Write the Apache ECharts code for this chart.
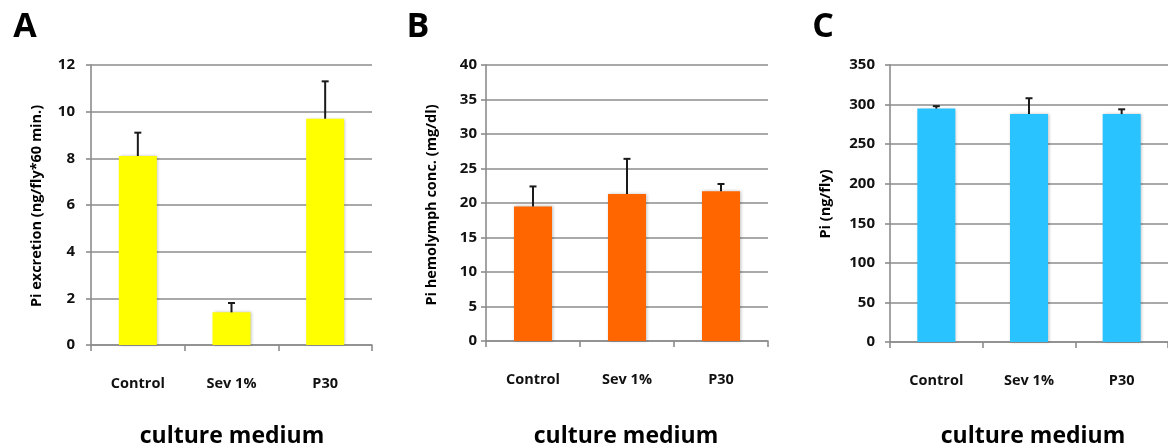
<!DOCTYPE html>
<html>
<head>
<meta charset="utf-8">
<script src="https://cdn.jsdelivr.net/npm/echarts@6/dist/echarts.min.js"></script>
<style>
html,body{margin:0;padding:0;background:#fff;}
#chart{width:1168px;height:448px;}
</style>
</head>
<body>
<div id="chart"></div>
<script>
const categories = ['Control', 'Sev 1%', 'P30'];
const excretion = [8.1, 1.4, 9.7];
const excretionErr = [1.0, 0.4, 1.6];
const hemolymph = [19.5, 21.3, 21.7];
const hemolymphErr = [2.9, 5.1, 1.05];
const content = [295, 288, 288];
const contentErr = [3, 20, 6];
const yTicksA = {min: 0, max: 12, interval: 2};
const yTicksB = {min: 0, max: 40, interval: 5};
const yTicksC = {min: 0, max: 350, interval: 50};

const FONT = '"Open Sans", sans-serif';
const GRAY = '#8c8c8c';

function errRender(params, api) {
  const x = api.value(0), v = api.value(1), e = api.value(2);
  const b = api.coord([x, v]);
  const t = api.coord([x, v + e]);
  const hw = 3.5;
  const st = {stroke: '#1a1a1a', lineWidth: 2};
  return {type: 'group', children: [
    {type: 'line', shape: {x1: b[0], y1: b[1], x2: t[0], y2: t[1]}, style: st},
    {type: 'line', shape: {x1: t[0] - hw, y1: t[1], x2: t[0] + hw, y2: t[1]}, style: st}
  ]};
}

function xAxisCfg(idx) {
  return {
    type: 'category', gridIndex: idx, data: categories, boundaryGap: true,
    axisLine: {lineStyle: {color: GRAY, width: 1.6}},
    axisTick: {show: true, length: 6, lineStyle: {color: GRAY, width: 1.6}, alignWithLabel: false},
    axisLabel: {margin: 31, fontFamily: FONT, fontWeight: 'bold', fontSize: 14.5, color: '#111'}
  };
}
function yAxisCfg(idx, t, margin) {
  return {
    type: 'value', gridIndex: idx, min: t.min, max: t.max, interval: t.interval,
    axisLine: {show: true, lineStyle: {color: GRAY, width: 1.6}},
    axisTick: {show: true, length: 5, lineStyle: {color: GRAY, width: 1.6}},
    splitLine: {show: true, lineStyle: {color: GRAY, width: 1.6}},
    axisLabel: {margin: margin, fontFamily: FONT, fontWeight: 'bold', fontSize: 15, color: '#111'}
  };
}
function barSeries(idx, vals, color) {
  return {
    type: 'bar', xAxisIndex: idx, yAxisIndex: idx, data: vals, barWidth: 38,
    itemStyle: {color: color, shadowColor: 'rgba(0,0,0,0.25)', shadowBlur: 3, shadowOffsetX: 1, shadowOffsetY: 0},
    animation: false
  };
}
function errSeries(idx, vals, errs) {
  return {
    type: 'custom', xAxisIndex: idx, yAxisIndex: idx, renderItem: errRender,
    data: vals.map((v, i) => [i, v, errs[i]]), z: 5, animation: false
  };
}
function txt(x, y, s, size, weight, rot) {
  return {type: 'text', x: x, y: y, rotation: rot || 0,
    style: {text: s, font: weight + ' ' + size + 'px ' + FONT, fill: '#000', textAlign: 'center', textVerticalAlign: 'middle'}};
}

const chart = echarts.init(document.getElementById('chart'));
chart.setOption({
  backgroundColor: '#fff',
  animation: false,
  grid: [
    {left: 91, top: 65, width: 281, height: 280},
    {left: 486, top: 65, width: 282, height: 276},
    {left: 890, top: 65, width: 287, height: 277}
  ],
  xAxis: [xAxisCfg(0), xAxisCfg(1), xAxisCfg(2)],
  yAxis: [yAxisCfg(0, yTicksA, 16), yAxisCfg(1, yTicksB, 9), yAxisCfg(2, yTicksC, 15)],
  series: [
    barSeries(0, excretion, '#ffff00'), errSeries(0, excretion, excretionErr),
    barSeries(1, hemolymph, '#ff6600'), errSeries(1, hemolymph, hemolymphErr),
    barSeries(2, content, '#29c3ff'), errSeries(2, content, contentErr)
  ],
  graphic: [
    txt(25, 27, 'A', 34, 'bold'),
    txt(418, 27, 'B', 34, 'bold'),
    txt(823, 27, 'C', 34, 'bold'),
    txt(37, 206, 'Pi excretion (ng/fly*60 min.)', 14.5, 'bold', Math.PI / 2),
    txt(432, 205, 'Pi hemolymph conc. (mg/dl)', 14.5, 'bold', Math.PI / 2),
    txt(826, 204, 'Pi (ng/fly)', 14.5, 'bold', Math.PI / 2),
    txt(232, 436, 'culture medium', 23, 'bold'),
    txt(626, 436, 'culture medium', 23, 'bold'),
    txt(1033, 436, 'culture medium', 23, 'bold')
  ]
});
</script>
</body>
</html>
